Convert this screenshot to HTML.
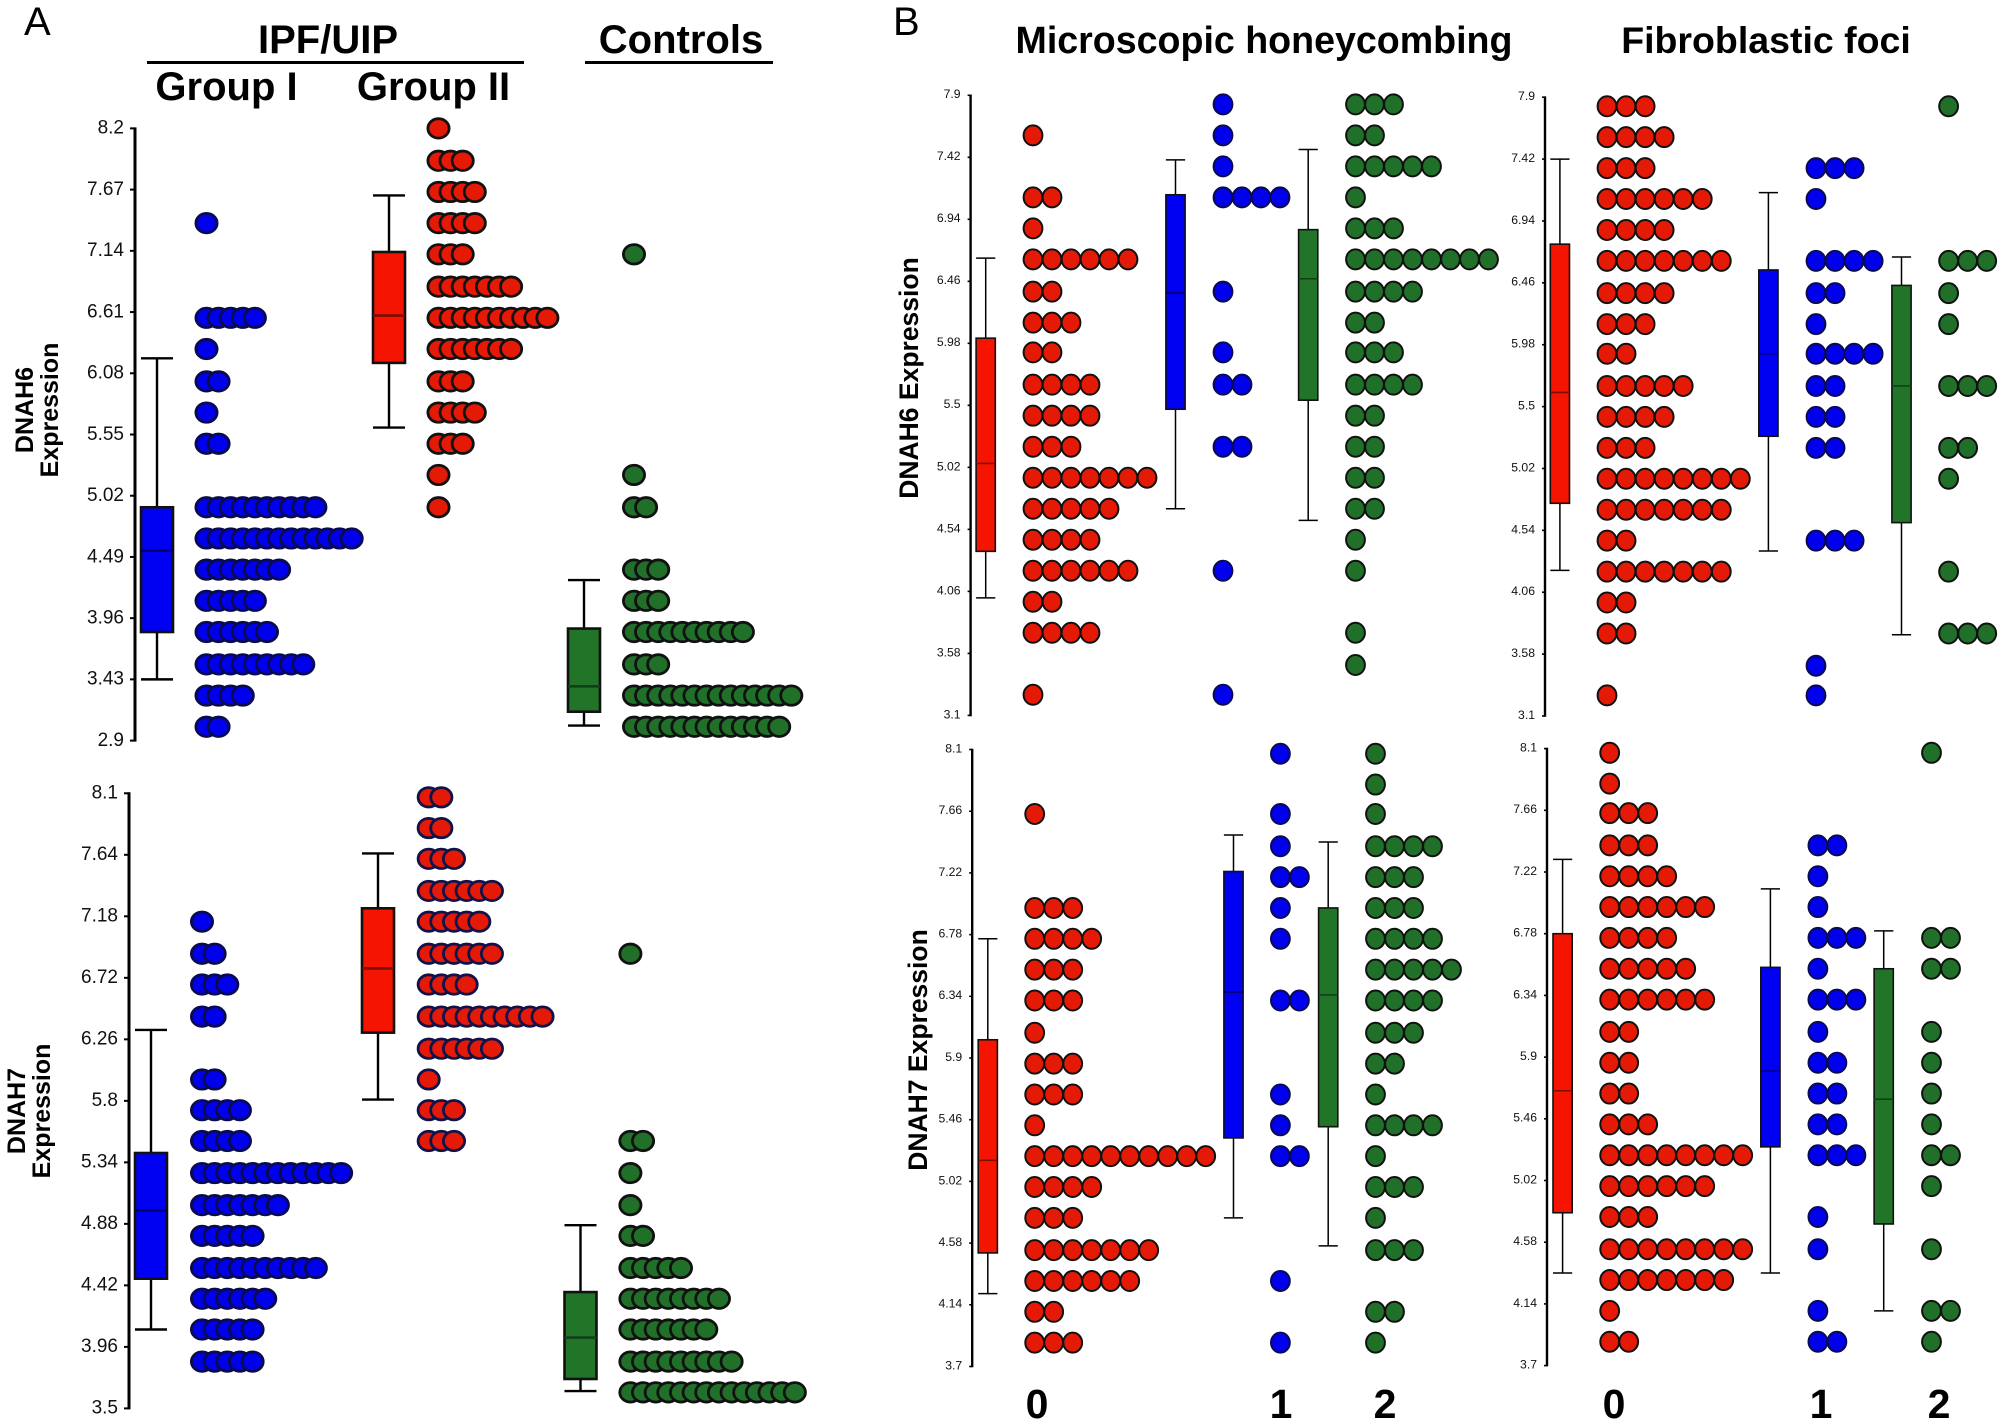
<!DOCTYPE html>
<html lang="en">
<head>
<meta charset="utf-8">
<title>DNAH6 and DNAH7 expression</title>
<style>
html,body{margin:0;padding:0;background:#fff;}
body{width:2004px;height:1425px;overflow:hidden;}
svg{display:block;}
text{font-family:"Liberation Sans",sans-serif;fill:#000;}
.head{font-weight:bold;}
.tick-label{fill:#111;}
</style>
</head>
<body>
<svg id="figure" xmlns="http://www.w3.org/2000/svg" width="2004" height="1425" viewBox="0 0 2004 1425">
  <rect x="0" y="0" width="2004" height="1425" fill="#fff"/>
  <text x="24" y="35" font-size="40">A</text>
  <text x="893" y="35" font-size="40">B</text>

  <text class="head" x="328" y="53" font-size="40" text-anchor="middle">IPF/UIP</text>
  <line x1="147" x2="524" y1="62.5" y2="62.5" stroke="#000" stroke-width="3"/>
  <text class="head" x="681" y="53" font-size="40" text-anchor="middle">Controls</text>
  <line x1="585" x2="773" y1="62.5" y2="62.5" stroke="#000" stroke-width="3"/>
  <text class="head" x="226.5" y="100" font-size="40" text-anchor="middle">Group I</text>
  <text class="head" x="433.5" y="100" font-size="40" text-anchor="middle">Group II</text>

  <text class="head" x="1264" y="53" font-size="37.6" text-anchor="middle">Microscopic honeycombing</text>
  <text class="head" x="1766" y="53" font-size="37.5" text-anchor="middle">Fibroblastic foci</text>

  <text class="head" transform="translate(33 410) rotate(-90)" font-size="25" text-anchor="middle">DNAH6</text>
  <text class="head" transform="translate(58 410) rotate(-90)" font-size="25" text-anchor="middle">Expression</text>
  <text class="head" transform="translate(25 1111) rotate(-90)" font-size="25" text-anchor="middle">DNAH7</text>
  <text class="head" transform="translate(50 1111) rotate(-90)" font-size="25" text-anchor="middle">Expression</text>
  <text class="head" transform="translate(918 378) rotate(-90)" font-size="26.5" text-anchor="middle">DNAH6 Expression</text>
  <text class="head" transform="translate(927 1050) rotate(-90)" font-size="26.5" text-anchor="middle">DNAH7 Expression</text>

  <text class="head" x="1037" y="1418" font-size="41" text-anchor="middle">0</text>
  <text class="head" x="1281" y="1418" font-size="41" text-anchor="middle">1</text>
  <text class="head" x="1385" y="1418" font-size="41" text-anchor="middle">2</text>
  <text class="head" x="1614" y="1418" font-size="41" text-anchor="middle">0</text>
  <text class="head" x="1821" y="1418" font-size="41" text-anchor="middle">1</text>
  <text class="head" x="1939" y="1418" font-size="41" text-anchor="middle">2</text>
</svg>

<script>
/* ---------- Data ---------- */
/* Panel A, DNAH6 */
const a6Ticks = ['8.2','7.67','7.14','6.61','6.08','5.55','5.02','4.49','3.96','3.43','2.9'];
const a6Rows = [8.2,7.92,7.65,7.38,7.11,6.83,6.56,6.29,6.01,5.74,5.47,5.20,4.92,4.65,4.38,4.11,3.84,3.56,3.29,3.02];
const a6CountsBlue = [0,0,0,1,0,0,5,1,2,1,2,0,10,13,7,5,6,9,4,2];
const a6CountsRed = [1,3,4,4,3,7,10,7,3,4,3,1,1,0,0,0,0,0,0,0];
const a6CountsGreen = [0,0,0,0,1,0,0,0,0,0,0,1,2,0,3,3,10,3,14,13];
const a6BoxBlue = [3.43,3.84,4.545,4.92,6.21];
const a6BoxRed = [5.61,6.17,6.58,7.13,7.62];
const a6BoxGreen = [3.03,3.15,3.37,3.87,4.29];

/* Panel A, DNAH7 */
const a7Ticks = ['8.1','7.64','7.18','6.72','6.26','5.8','5.34','4.88','4.42','3.96','3.5'];
const a7Rows = [8.07,7.84,7.61,7.37,7.14,6.90,6.67,6.43,6.19,5.96,5.73,5.50,5.26,5.02,4.79,4.55,4.32,4.09,3.85,3.62];
const a7CountsBlue = [0,0,0,0,1,2,3,2,0,2,4,4,12,7,5,10,6,5,5,0];
const a7CountsRed = [2,2,3,6,5,6,4,10,6,1,3,3,0,0,0,0,0,0,0,0];
const a7CountsGreen = [0,0,0,0,0,1,0,0,0,0,0,2,1,1,2,5,8,7,9,14];
const a7BoxBlue = [4.09,4.47,4.98,5.41,6.33];
const a7BoxRed = [5.81,6.31,6.79,7.24,7.65];
const a7BoxGreen = [3.63,3.72,4.03,4.37,4.87];

/* Panel B, DNAH6 shared axis */
const b6Ticks = ['7.9','7.42','6.94','6.46','5.98','5.5','5.02','4.54','4.06','3.58','3.1'];
const b6Rows = [7.83,7.59,7.35,7.11,6.87,6.63,6.38,6.14,5.91,5.66,5.42,5.18,4.94,4.70,4.46,4.22,3.98,3.74,3.49,3.26];
/* Panel B, DNAH6 honeycombing */
const mh6CountsRed = [0,1,0,2,1,6,2,3,2,4,4,3,7,5,4,6,2,4,0,1];
const mh6CountsBlue = [1,1,1,4,0,0,1,0,1,2,0,2,0,0,0,1,0,0,0,1];
const mh6CountsGreen = [3,2,5,1,3,8,4,2,3,4,2,2,2,2,1,1,0,1,1,0];
const mh6BoxRed = [4.01,4.37,5.05,6.02,6.64];
const mh6BoxBlue = [4.70,5.47,6.37,7.13,7.40];
const mh6BoxGreen = [4.61,5.54,6.48,6.86,7.48];
/* Panel B, DNAH6 foci */
const ff6CountsRed = [3,4,3,6,4,7,4,3,2,5,4,3,8,7,2,7,2,2,0,1];
const ff6CountsBlue = [0,0,3,1,0,4,2,1,4,2,2,2,0,0,3,0,0,0,1,1];
const ff6CountsGreen = [1,0,0,0,0,3,1,1,0,3,0,2,1,0,0,1,0,3,0,0];
const ff6BoxRed = [4.23,4.75,5.61,6.76,7.42];
const ff6BoxBlue = [4.38,5.27,5.91,6.56,7.16];
const ff6BoxGreen = [3.73,4.60,5.66,6.44,6.66];

/* Panel B, DNAH7 shared axis */
const b7Ticks = ['8.1','7.66','7.22','6.78','6.34','5.9','5.46','5.02','4.58','4.14','3.7'];
const b7Rows = [8.07,7.85,7.64,7.41,7.19,6.97,6.75,6.53,6.31,6.08,5.86,5.64,5.42,5.20,4.98,4.76,4.53,4.31,4.09,3.87];
/* Panel B, DNAH7 honeycombing */
const mh7CountsRed = [0,0,1,0,0,3,4,3,3,1,3,3,1,10,4,3,7,6,2,3];
const mh7CountsBlue = [1,0,1,1,2,1,1,0,2,0,0,1,1,2,0,0,0,1,0,1];
const mh7CountsGreen = [1,1,1,4,3,3,4,5,4,3,2,1,4,1,3,1,3,0,2,1];
const mh7BoxRed = [4.22,4.51,5.17,6.03,6.75];
const mh7BoxBlue = [4.76,5.33,6.37,7.23,7.49];
const mh7BoxGreen = [4.56,5.41,6.35,6.97,7.44];
/* Panel B, DNAH7 foci */
const ff7CountsRed = [1,1,3,3,4,6,4,5,6,2,2,2,3,8,6,3,8,7,1,2];
const ff7CountsBlue = [0,0,0,2,1,1,3,1,3,1,2,2,2,3,0,1,1,0,1,2];
const ff7CountsGreen = [1,0,0,0,0,0,2,2,0,1,1,1,1,2,1,0,1,0,2,1];
const ff7BoxRed = [4.36,4.79,5.66,6.78,7.31];
const ff7BoxBlue = [4.36,5.26,5.80,6.54,7.10];
const ff7BoxGreen = [4.09,4.71,5.60,6.53,6.80];

/* ---------- Styling and layout ---------- */
const FILL = {blue:'#0000ec', red:'#e41a06', green:'#21702a'};
const BOXFILL = {blue:'#0000f2', red:'#f41400', green:'#227428'};
const MID = {blue:'#00006a', red:'#7a0c00', green:'#10401a'};

const styleA = {rx:10.6, ry:9.7, dotStroke:2.8, boxHalf:16, axisW:3, tickLen:5, tickW:2, whiskerW:2.4, boxW:2.6, font:19, labelGap:11};
const styleB = {rx:9.4, ry:10, dotStroke:2, boxHalf:9.6, axisW:2.4, tickLen:3, tickW:1.6, whiskerW:1.5, boxW:1.6, font:12.2, labelGap:10};

const panels = [
  {name:'a-dnah6', style:styleA, axisX:135, top:128.4, bottom:740.6, step:12.1, ticks:a6Ticks, rows:a6Rows, series:[
    {name:'group-1', color:'blue', counts:a6CountsBlue, box:a6BoxBlue, boxX:157, dotX:206.5},
    {name:'group-2', color:'red', counts:a6CountsRed, box:a6BoxRed, boxX:389, dotX:438.5},
    {name:'controls', color:'green', counts:a6CountsGreen, box:a6BoxGreen, boxX:584, dotX:634}]},
  {name:'a-dnah7', style:styleA, axisX:129, top:793.3, bottom:1408.4, step:12.65, ticks:a7Ticks, rows:a7Rows, series:[
    {name:'group-1', color:'blue', counts:a7CountsBlue, box:a7BoxBlue, boxX:151, dotX:202},
    {name:'group-2', color:'red', counts:a7CountsRed, box:a7BoxRed, boxX:378, dotX:428.7},
    {name:'controls', color:'green', counts:a7CountsGreen, box:a7BoxGreen, boxX:580.5, dotX:630.4}]},
  {name:'honeycombing-dnah6', style:styleB, axisX:970.6, top:95.3, bottom:715.4, step:19, ticks:b6Ticks, rows:b6Rows, series:[
    {name:'score-0', color:'red', counts:mh6CountsRed, box:mh6BoxRed, boxX:985.7, dotX:1033},
    {name:'score-1', color:'blue', counts:mh6CountsBlue, box:mh6BoxBlue, boxX:1175.5, dotX:1223},
    {name:'score-2', color:'green', counts:mh6CountsGreen, box:mh6BoxGreen, boxX:1308.2, dotX:1355.5}]},
  {name:'foci-dnah6', style:styleB, axisX:1545, top:97.2, bottom:716, step:19.05, ticks:b6Ticks, rows:b6Rows, series:[
    {name:'score-0', color:'red', counts:ff6CountsRed, box:ff6BoxRed, boxX:1559.9, dotX:1607},
    {name:'score-1', color:'blue', counts:ff6CountsBlue, box:ff6BoxBlue, boxX:1768.4, dotX:1816},
    {name:'score-2', color:'green', counts:ff6CountsGreen, box:ff6BoxGreen, boxX:1901.5, dotX:1948.6}]},
  {name:'honeycombing-dnah7', style:styleB, axisX:972.2, top:749.5, bottom:1366.5, step:19, ticks:b7Ticks, rows:b7Rows, series:[
    {name:'score-0', color:'red', counts:mh7CountsRed, box:mh7BoxRed, boxX:987.8, dotX:1034.7},
    {name:'score-1', color:'blue', counts:mh7CountsBlue, box:mh7BoxBlue, boxX:1233.5, dotX:1280.4},
    {name:'score-2', color:'green', counts:mh7CountsGreen, box:mh7BoxGreen, boxX:1328.2, dotX:1375.5}]},
  {name:'foci-dnah7', style:styleB, axisX:1547, top:748.6, bottom:1365.6, step:19, ticks:b7Ticks, rows:b7Rows, series:[
    {name:'score-0', color:'red', counts:ff7CountsRed, box:ff7BoxRed, boxX:1562.6, dotX:1609.7},
    {name:'score-1', color:'blue', counts:ff7CountsBlue, box:ff7BoxBlue, boxX:1770.4, dotX:1817.9},
    {name:'score-2', color:'green', counts:ff7CountsGreen, box:ff7BoxGreen, boxX:1883.7, dotX:1931.5}]}
];

/* ---------- Drawing ---------- */
const SVGNS = 'http://www.w3.org/2000/svg';
const figure = document.getElementById('figure');

function make(parent, tag, attrs) {
  const el = document.createElementNS(SVGNS, tag);
  for (const k in attrs) el.setAttribute(k, attrs[k]);
  parent.appendChild(el);
  return el;
}

function yScale(panel) {
  const max = parseFloat(panel.ticks[0]);
  const min = parseFloat(panel.ticks[panel.ticks.length - 1]);
  return function (v) {
    return panel.top + (max - v) / (max - min) * (panel.bottom - panel.top);
  };
}

function drawAxis(group, panel, y) {
  const s = panel.style;
  const axis = make(group, 'line', {x1:panel.axisX, x2:panel.axisX, y1:panel.top - s.tickW / 2, y2:panel.bottom + s.tickW / 2, stroke:'#000', 'stroke-width':s.axisW});
  
  
  panel.ticks.forEach(function (label) {
    const ty = y(parseFloat(label));
    const tick = make(group, 'line', {x1:panel.axisX - s.tickLen, x2:panel.axisX, y1:ty, y2:ty, stroke:'#000', 'stroke-width':s.tickW});
    
    
    const text = make(group, 'text', {'class':'tick-label', x:panel.axisX - s.labelGap, y:ty + s.font * 0.36 - 1.5, 'font-size':s.font, 'text-anchor':'end'});
    text.textContent = label;
    
    
  });
}

function drawBox(group, panel, ser, y) {
  const s = panel.style;
  const b = ser.box;
  const x = ser.boxX, hw = s.boxHalf;
  const stem = make(group, 'line', {x1:x, x2:x, y1:y(b[0]), y2:y(b[4]), stroke:'#000', 'stroke-width':s.whiskerW});
  
  
  const capLow = make(group, 'line', {x1:x - hw, x2:x + hw, y1:y(b[0]), y2:y(b[0]), stroke:'#000', 'stroke-width':s.whiskerW});
  
  
  const capHigh = make(group, 'line', {x1:x - hw, x2:x + hw, y1:y(b[4]), y2:y(b[4]), stroke:'#000', 'stroke-width':s.whiskerW});
  
  
  const rect = make(group, 'rect', {x:x - hw, width:hw * 2, y:y(b[3]), height:y(b[1]) - y(b[3]), fill:BOXFILL[ser.color], stroke:'#111', 'stroke-width':s.boxW});
  
  
  const med = make(group, 'line', {x1:x - hw, x2:x + hw, y1:y(b[2]), y2:y(b[2]), stroke:MID[ser.color], 'stroke-width':s.boxW});
  
  
}

function drawDots(group, panel, ser, y) {
  const s = panel.style;
  const stroke = ser.color === 'blue' ? '#0a0a50' : (ser.color === 'red' && panel.name === 'a-dnah7' ? '#12124a' : '#111');
  panel.rows.forEach(function (value, r) {
    for (let i = 0; i < ser.counts[r]; i++) {
      const dot = make(group, 'ellipse', {cx:ser.dotX + i * panel.step, cy:y(value), rx:s.rx, ry:s.ry, fill:FILL[ser.color], stroke:stroke, 'stroke-width':s.dotStroke});
      
      
    }
  });
}

panels.forEach(function (panel) {
  const y = yScale(panel);
  const group = make(figure, 'g', {});
  
  
  drawAxis(group, panel, y);
  panel.series.forEach(function (ser) {
    drawBox(group, panel, ser, y);
    drawDots(group, panel, ser, y);
  });
});
</script>
</body>
</html>
